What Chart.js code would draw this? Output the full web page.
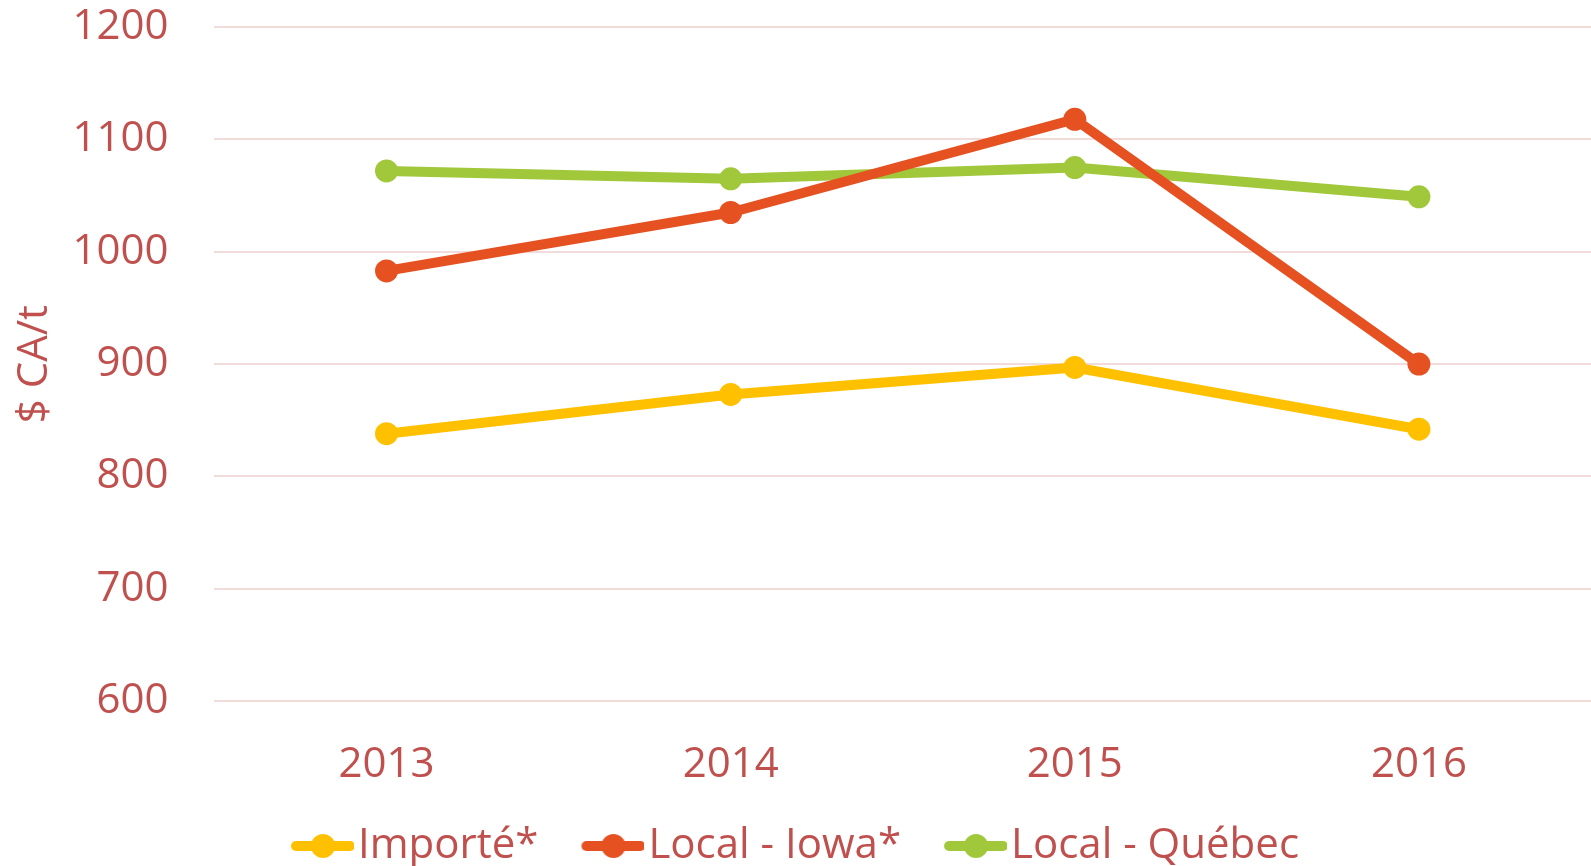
<!DOCTYPE html>
<html>
<head>
<meta charset="utf-8">
<script src="https://cdn.jsdelivr.net/npm/chart.js@4"></script>
<style>
  html, body { margin: 0; padding: 0; background: #fff; overflow: hidden; }
</style>
</head>
<body>
<canvas id="prixChart" width="1591" height="866"></canvas>
<script>
const annees = ['2013', '2014', '2015', '2016'];
const importe = [838, 873, 897, 842];
const localIowa = [983, 1035, 1118, 900];
const localQuebec = [1072, 1065, 1075, 1049];

const TEXT_COLOR = '#C0504D';
const GRID_COLOR = '#F2DCDB';
const FONT = '"Open Sans", "Liberation Sans", sans-serif';

// legend marker: a short line with a dot in the middle, like the spreadsheet legend
// (image is centred on the 45px legend box, so the line starts 17px into it)
function legendMarker(color) {
    const c = document.createElement('canvas');
    c.width = 79;
    c.height = 26;
    const g = c.getContext('2d');
    g.strokeStyle = color;
    g.lineWidth = 10;
    g.lineCap = 'round';
    g.beginPath();
    g.moveTo(21, 13);
    g.lineTo(75, 13);
    g.stroke();
    g.fillStyle = color;
    g.beginPath();
    g.arc(48, 13, 12, 0, Math.PI * 2);
    g.fill();
    return c;
}

function serie(label, data, color) {
    return {
        label: label,
        data: data,
        borderColor: color,
        backgroundColor: color,
        borderWidth: 10,
        borderJoinStyle: 'round',
        pointRadius: 11.5,
        pointBorderWidth: 0,
        pointBackgroundColor: color,
        tension: 0
    };
}

const ctx = document.getElementById('prixChart').getContext('2d');
new Chart(ctx, {
    type: 'line',
    data: {
        labels: annees,
        datasets: [
            serie('Importé*', importe, '#FFC000'),
            serie('Local - Iowa*', localIowa, '#E65122'),
            serie('Local - Québec', localQuebec, '#A0C83A')
        ]
    },
    options: {
        responsive: false,
        animation: false,
        layout: { autoPadding: false, padding: { top: 0, left: 0, right: 0, bottom: -11 } },
        scales: {
            x: {
                offset: true,
                grid: { display: false, drawTicks: false },
                border: { display: false },
                ticks: { color: TEXT_COLOR, font: { family: FONT, size: 42 }, padding: 39 },
                // empty title only used to trim the axis height
                title: { display: true, text: '', font: { size: 1 }, padding: { top: -49.6, bottom: 0 } }
            },
            y: {
                min: 600,
                max: 1200,
                ticks: {
                    stepSize: 100,
                    color: TEXT_COLOR,
                    font: { family: FONT, size: 42 },
                    padding: 2,
                    callback: (v) => String(v)
                },
                grid: { color: GRID_COLOR, lineWidth: 2, drawTicks: true, tickLength: 44, tickColor: 'rgba(0,0,0,0)' },
                border: { display: false },
                title: {
                    display: true,
                    text: '$ CA/t',
                    color: TEXT_COLOR,
                    font: { family: FONT, size: 42 },
                    padding: { top: 10, bottom: 10 }
                }
            }
        },
        plugins: {
            tooltip: { enabled: false },
            legend: {
                position: 'bottom',
                labels: {
                    color: TEXT_COLOR,
                    font: { family: FONT, size: 42 },
                    usePointStyle: true,
                    pointStyleWidth: 45,
                    padding: 44,
                    generateLabels: function(chart) {
                        return chart.data.datasets.map((ds, i) => ({
                            text: ds.label,
                            fontColor: TEXT_COLOR,
                            pointStyle: legendMarker(ds.borderColor),
                            lineWidth: 0,
                            strokeStyle: 'transparent',
                            fillStyle: ds.borderColor,
                            hidden: false,
                            datasetIndex: i
                        }));
                    }
                }
            }
        }
    }
});
</script>
</body>
</html>
